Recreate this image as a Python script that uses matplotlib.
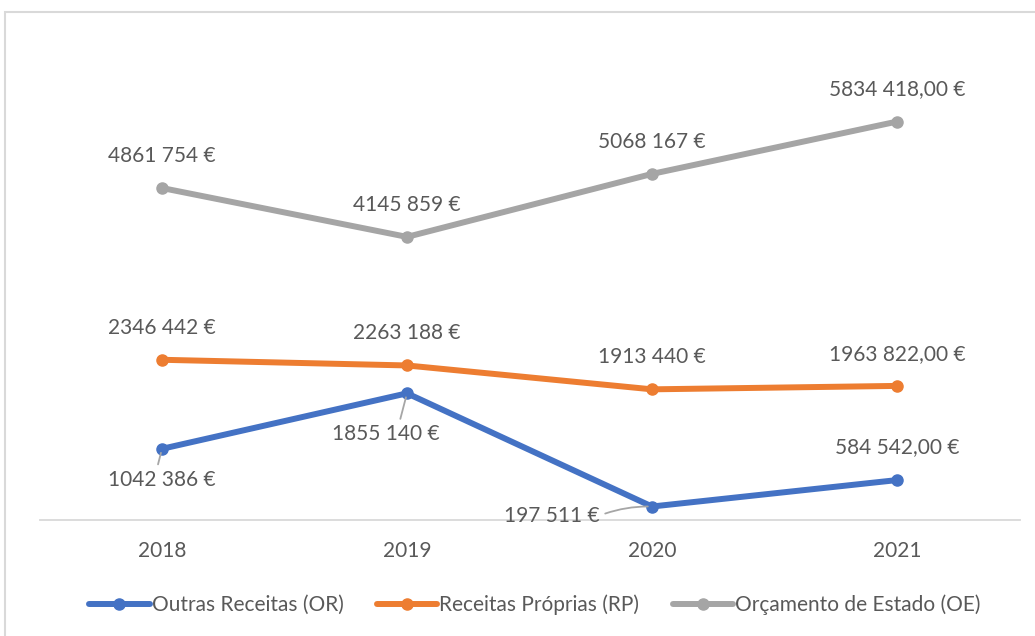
import matplotlib.pyplot as plt
from matplotlib.patches import Rectangle

plt.rcParams["font.family"] = ["Lato", "DejaVu Sans"]

years = ["2018", "2019", "2020", "2021"]
outras = [1042386, 1855140, 197511, 584542.00]
proprias = [2346442, 2263188, 1913440, 1963822.00]
estado = [4861754, 4145859, 5068167, 5834418.00]

lab_or = ["1042 386 €", "1855 140 €", "197 511 €", "584 542,00 €"]
lab_rp = ["2346 442 €", "2263 188 €", "1913 440 €", "1963 822,00 €"]
lab_oe = ["4861 754 €", "4145 859 €", "5068 167 €", "5834 418,00 €"]

c_or = "#4472C4"
c_rp = "#ED7D31"
c_oe = "#A5A5A5"
txt = "#595959"

fig = plt.figure(figsize=(10.35, 6.36), dpi=100)
ax = fig.add_axes([39.5 / 1035, 116 / 636, 980 / 1035, 478 / 636])

x = list(range(len(years)))
ax.plot(x, outras, color=c_or, lw=4.3, marker="o", ms=8, label="Outras Receitas (OR)",
        solid_capstyle="round")
ax.plot(x, proprias, color=c_rp, lw=4.3, marker="o", ms=8, label="Receitas Próprias (RP)",
        solid_capstyle="round")
ax.plot(x, estado, color=c_oe, lw=4.3, marker="o", ms=8, label="Orçamento de Estado (OE)",
        solid_capstyle="round")

fs = 15
for i in x:
    ax.annotate(lab_oe[i], (i, estado[i]), xytext=(0, 32), textcoords="offset pixels",
                ha="center", va="center", fontsize=fs, color=txt)
    ax.annotate(lab_rp[i], (i, proprias[i]), xytext=(0, 32), textcoords="offset pixels",
                ha="center", va="center", fontsize=fs, color=txt)

# outras receitas labels, some with leader lines
lead = dict(arrowstyle="-", color="#A6A6A6", lw=1.3, shrinkA=2, shrinkB=3)
ax.annotate(lab_or[0], (0, outras[0]), xytext=(0, -31), textcoords="offset pixels",
            ha="center", va="center", fontsize=fs, color=txt,
            arrowprops=dict(lead, relpos=(0.45, 1.0)))
ax.annotate(lab_or[1], (1, outras[1]), xytext=(-21, -41), textcoords="offset pixels",
            ha="center", va="center", fontsize=fs, color=txt,
            arrowprops=dict(lead, relpos=(0.62, 1.0)))
ax.annotate(lab_or[2], (2, outras[2]), xytext=(-100, -9), textcoords="offset pixels",
            ha="center", va="center", fontsize=fs, color=txt,
            arrowprops=dict(lead, relpos=(1.0, 0.5), connectionstyle="arc3,rad=-0.1"))
ax.annotate(lab_or[3], (3, outras[3]), xytext=(0, 33), textcoords="offset pixels",
            ha="center", va="center", fontsize=fs, color=txt)

ax.set_xlim(-0.5, 3.5)
ax.set_ylim(0, 7000000)
ax.set_xticks(x)
ax.set_xticklabels(years, fontsize=fs, color=txt)
ax.set_yticks([])
ax.tick_params(axis="x", length=0, pad=15)
for s in ["top", "right", "left"]:
    ax.spines[s].set_visible(False)
ax.spines["bottom"].set_color("#D9D9D9")
ax.spines["bottom"].set_linewidth(1.3)

ax.legend(loc="center", bbox_to_anchor=(535 / 1035, 31 / 636), bbox_transform=fig.transFigure,
          ncol=3, frameon=False, fontsize=fs, labelcolor=txt, handlelength=2.9,
          handletextpad=0.1, columnspacing=1.6, borderaxespad=0)

# chart area border (cropped screenshot)
fig.patches.append(Rectangle((5 / 1035, -0.1), 1.2, (636 - 12) / 636 + 0.1,
                             transform=fig.transFigure, fill=False,
                             edgecolor="#D9D9D9", lw=1.5))

fig.savefig("out.png", dpi=100)
